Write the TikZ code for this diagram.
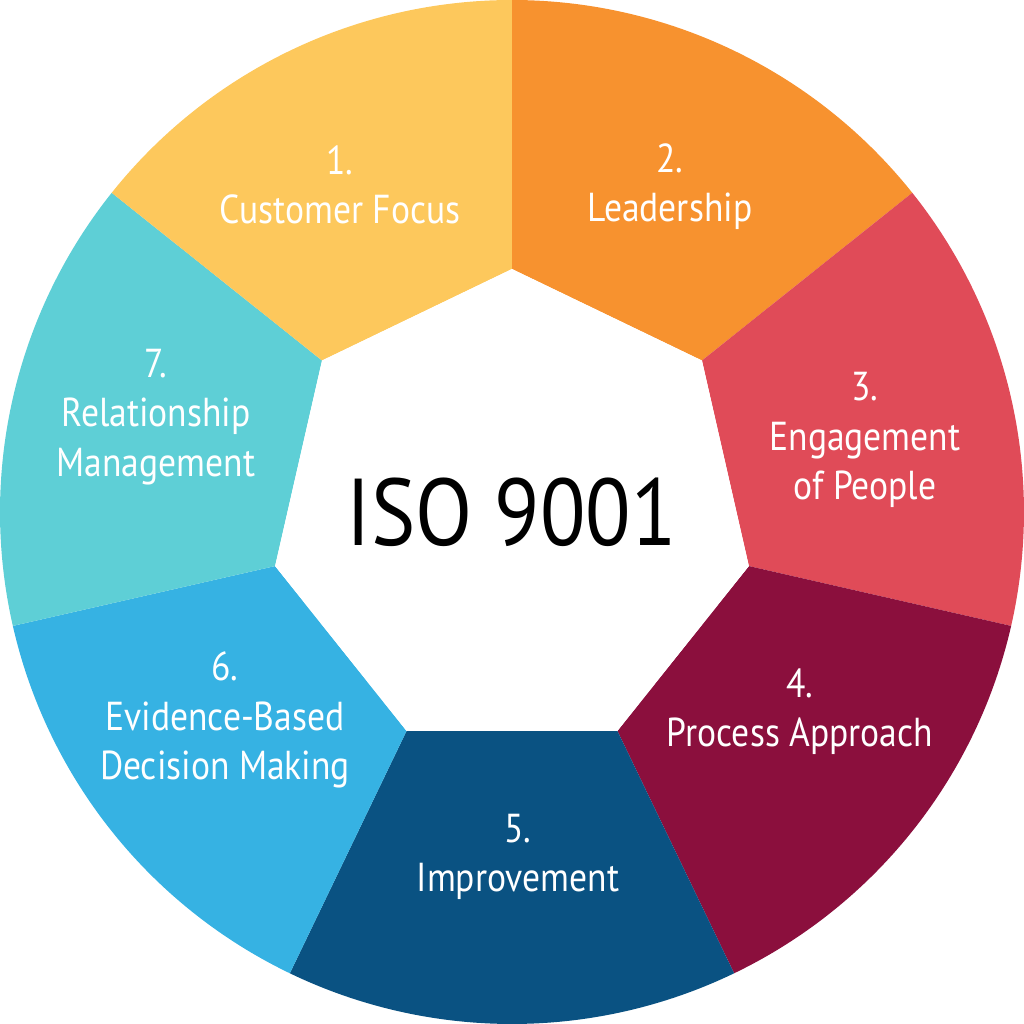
\documentclass[tikz,border=0pt]{standalone}
\usepackage{fontspec}
\setmainfont{PT Sans}[FakeStretch=0.88]
\definecolor{c1}{HTML}{FDC85C}
\definecolor{c2}{HTML}{F7922F}
\definecolor{c3}{HTML}{E04B58}
\definecolor{c4}{HTML}{8B0F3D}
\definecolor{c5}{HTML}{0A5282}
\definecolor{c6}{HTML}{36B2E3}
\definecolor{c7}{HTML}{5ECFD6}
\tikzset{lbl/.style={text=white,font=\fontsize{11.5}{14}\selectfont,align=center}}
\begin{document}
\begin{tikzpicture}
\useasboundingbox (-5.12,-5.12) rectangle (5.12,5.12);
\foreach \i/\c in {0/c2,1/c3,2/c4,3/c5,4/c6,5/c7,6/c1}{
  \pgfmathsetmacro\a{38.5714-\i*51.4286}
  \pgfmathsetmacro\b{\a+51.4286}
  \fill[\c] (\a:5.12) arc[start angle=\a,end angle=\b,radius=5.12] -- (\b:2.43) -- (\a:2.43) -- cycle;
}
\fill[white] (90:2.43) \foreach \k in {1,...,6}{ -- (90+\k*51.4286:2.43)} -- cycle;
\node (center) at (0,0) {\fontsize{27}{32}\selectfont ISO 9001};
\node[lbl] (n1) at (-1.72,3.27) {1.\\Customer Focus};
\node[lbl] (n2) at (1.58,3.25) {2.\\Leadership};
\node[lbl] (n3) at (3.53,0.72) {3.\\Engagement\\of People};
\node[lbl] (n4) at (2.88,-2.0) {4.\\Process Approach};
\node[lbl] (n5) at (0.06,-3.45) {5.\\Improvement};
\node[lbl] (n6) at (-2.87,-2.08) {6.\\Evidence-Based\\Decision Making};
\node[lbl] (n7) at (-3.56,0.95) {7.\\Relationship\\Management};
\end{tikzpicture}
\end{document}
